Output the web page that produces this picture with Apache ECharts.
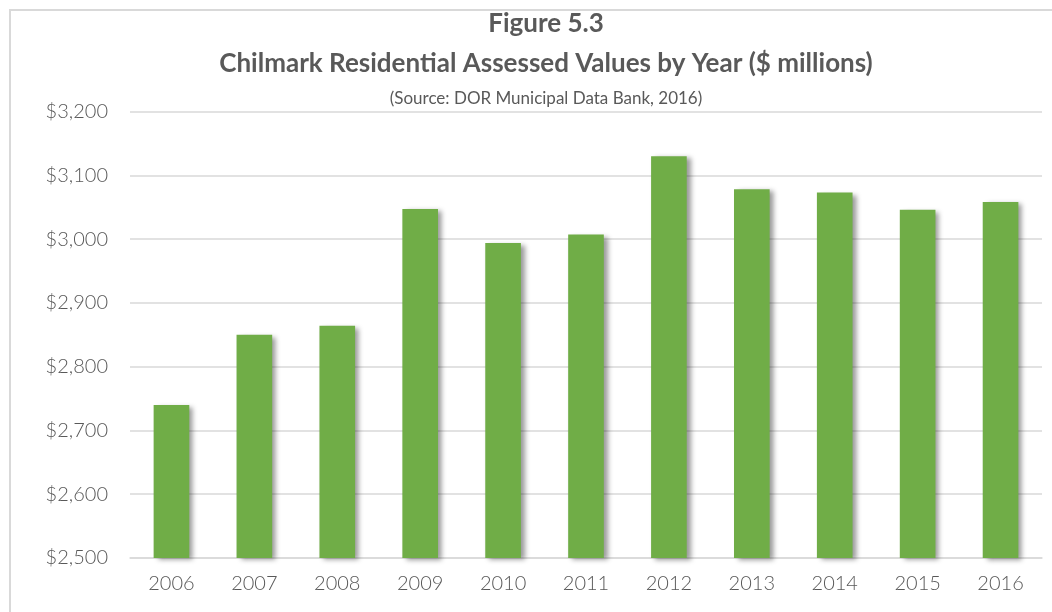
<!DOCTYPE html>
<html>
<head>
<meta charset="utf-8">
<script src="https://cdn.jsdelivr.net/npm/echarts@6/dist/echarts.min.js"></script>
<style>
  html, body { margin: 0; padding: 0; background: #fff; }
  #chart { width: 1052px; height: 612px; }
</style>
</head>
<body>
<div id="chart"></div>
<script>
const years = ["2006", "2007", "2008", "2009", "2010", "2011", "2012", "2013", "2014", "2015", "2016"];
const assessedValues = [2740, 2850, 2864, 3047, 2994, 3007, 3130, 3078, 3073, 3046, 3058];
const yTicks = { min: 2500, max: 3200, interval: 100 };

const labelFont = "Lato, 'Open Sans', sans-serif";

echarts.init(document.getElementById("chart")).setOption({
  animation: false,
  title: [
    {
      text: "Figure 5.3",
      left: 541,
      top: 6,
      textAlign: "center",
      textStyle: { fontFamily: labelFont, fontSize: 26, fontWeight: "bold", color: "#595959" },
    },
    {
      text: "Chilmark Residential Assessed Values by Year ($ millions)",
      left: 541,
      top: 46,
      textAlign: "center",
      textStyle: { fontFamily: labelFont, fontSize: 26, fontWeight: "bold", color: "#595959" },
    },
    {
      text: "(Source: DOR Municipal Data Bank, 2016)",
      left: 541,
      top: 85,
      textAlign: "center",
      textStyle: { fontFamily: labelFont, fontSize: 17, fontWeight: "normal", color: "#595959" },
    },
  ],
  graphic: [
    {
      type: "polyline",
      shape: { points: [[10, 612], [10, 10], [1052, 10]] },
      style: { stroke: "#d9d9d9", lineWidth: 2, fill: null },
      silent: true,
    },
  ],
  grid: { left: 130, right: 10, top: 111.5, bottom: 54 },
  xAxis: {
    type: "category",
    data: years,
    axisLine: { lineStyle: { color: "#d9d9d9", width: 1.5 } },
    axisTick: { show: false },
    axisLabel: { fontFamily: labelFont, fontSize: 20, fontWeight: 300, color: "#595959", margin: 16 },
  },
  yAxis: {
    type: "value",
    min: yTicks.min,
    max: yTicks.max,
    interval: yTicks.interval,
    axisLine: { show: false },
    axisTick: { show: false },
    splitLine: { lineStyle: { color: "#d9d9d9", width: 1.5 } },
    axisLabel: {
      fontFamily: labelFont,
      fontSize: 20,
      fontWeight: 300,
      color: "#595959",
      margin: 22,
      formatter: (v) => "$" + v.toLocaleString("en-US"),
    },
  },
  series: [
    {
      type: "bar",
      data: assessedValues,
      barWidth: "43%",
      itemStyle: {
        color: "#70ad47",
        shadowColor: "rgba(0, 0, 0, 0.4)",
        shadowBlur: 5,
        shadowOffsetX: 4,
        shadowOffsetY: 2,
      },
    },
  ],
});
</script>
</body>
</html>
